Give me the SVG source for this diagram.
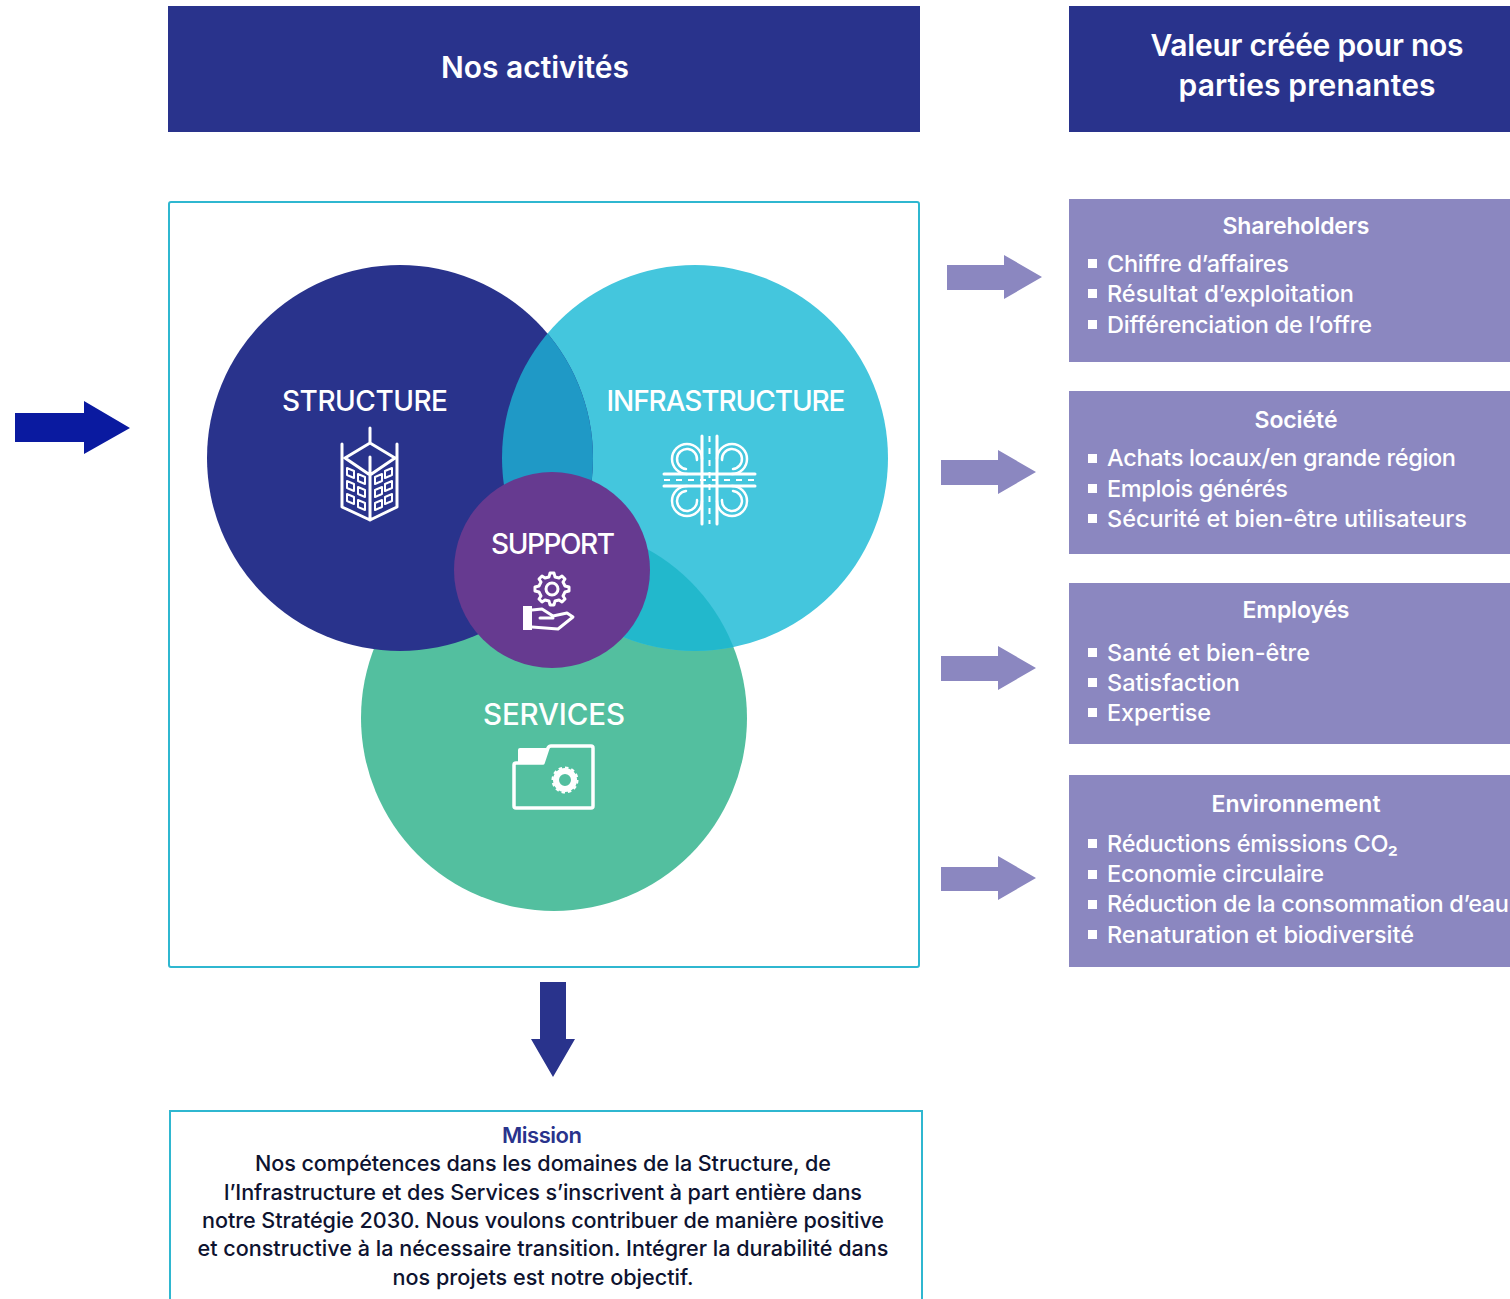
<svg xmlns="http://www.w3.org/2000/svg" width="1510" height="1299" viewBox="0 0 1510 1299">
<style>
text{font-family:"Inter","Liberation Sans",sans-serif}
.hd{fill:#fff;font-size:30px;font-weight:600;text-anchor:middle}
.lb{fill:#fff;font-size:28px;font-weight:500;text-anchor:middle}
.bt{fill:#fff;font-size:23px;font-weight:600;text-anchor:middle}
.li{fill:#fff;font-size:23.500px;font-weight:500}
.ms{fill:#0e1330;font-size:21.600px;font-weight:500;text-anchor:middle}
.box{fill:#8b87c0}
.navy{fill:#29338c}
.frame{fill:#fff;stroke:#2fb7d0;stroke-width:2}
.ic{fill:none;stroke:#fff;stroke-width:3;stroke-linecap:round;stroke-linejoin:round}
.bul{fill:#fff}
</style>
<defs>
<clipPath id="cS"><circle cx="400" cy="458" r="193"/></clipPath>
<clipPath id="cI"><circle cx="695" cy="458" r="193"/></clipPath>
<g id="loop"><path d="M702 459A15 15 0 1 0 687 474" stroke-width="2.500"/><path d="M697 460A10 10 0 1 0 686 469" stroke-width="2.500"/></g>
</defs>
<g id="head-activites"><rect class="navy" x="168" y="6" width="752" height="126"/><text class="hd" x="535" y="78" textLength="188">Nos activités</text></g>
<g id="head-valeur"><rect class="navy" x="1069" y="6" width="441" height="126"/><text class="hd" x="1307" y="56" textLength="313">Valeur créée pour nos</text><text class="hd" x="1307" y="96" textLength="257">parties prenantes</text></g>
<g id="frame-activites"><rect class="frame" x="169" y="202" width="750" height="765" rx="2"/></g>
<g id="services"><circle cx="554" cy="718" r="193" fill="#53bf9f"/></g>
<g id="infrastructure"><circle cx="695" cy="458" r="193" fill="#44c6dd"/><circle cx="554" cy="718" r="193" fill="#22b8cc" clip-path="url(#cI)"/></g>
<g id="structure"><circle cx="400" cy="458" r="193" fill="#29338c"/><circle cx="695" cy="458" r="193" fill="#1f99c6" clip-path="url(#cS)"/></g>
<g id="support"><circle cx="552" cy="570" r="98" fill="#663a90"/></g>
<g id="structure-label"><text class="lb" x="365" y="411" textLength="166">STRUCTURE</text>
<g class="ic"><path d="M370 428V443M342 444V507L370 520L397 507V444M345 458L370 443L395 458L370 475ZM370 457V520"/>
<path stroke-width="2" d="M347 468l7 3v7l-7-3zM358 474l7 3v7l-7-3zM347 481l7 3v7l-7-3zM358 487l7 3v7l-7-3zM347 494l7 3v7l-7-3zM358 500l7 3v7l-7-3zM375 477l7-3v7l-7 3zM385 471l7-3v7l-7 3zM375 490l7-3v7l-7 3zM385 484l7-3v7l-7 3zM375 503l7-3v7l-7 3zM385 497l7-3v7l-7 3z"/></g></g>
<g id="infrastructure-label"><text class="lb" x="726" y="411" textLength="239">INFRASTRUCTURE</text>
<g class="ic" stroke-width="2.500"><path d="M702 436V524M717 436V524M664 474H755M664 486H755"/><path d="M709.500 436V524M664 480H755" stroke-dasharray="6 6" stroke-width="2" stroke-linecap="butt"/>
<use href="#loop"/><use href="#loop" transform="matrix(-1 0 0 1 1419 0)"/><use href="#loop" transform="matrix(1 0 0 -1 0 960)"/><use href="#loop" transform="matrix(-1 0 0 -1 1419 960)"/></g></g>
<g id="support-label"><text class="lb" x="553" y="554" textLength="124">SUPPORT</text>
<g class="ic" stroke-width="2.500"><path d="M550 573h4l1 4 4 1 3-2 3 3-2 3 2 4 4 1v4l-4 1-2 4 2 3-3 3-3-2-4 1-1 4h-4l-1-4-4-1-3 2-3-3 2-3-2-4-4-1v-4l4-1 2-4-2-3 3-3 3 2 4-1z"/><circle cx="552" cy="589" r="6"/><path d="M532 610L542 609L553 616L567 613L573 617L558 629L532 627M540 618H553"/></g><rect x="523" y="606" width="9" height="24" fill="#fff"/></g>
<g id="services-label"><text class="lb" x="554" y="725" style="font-size:29.500px" textLength="142">SERVICES</text>
<path d="M516 763H543L548 748Q549 746 551 746H591Q593 746 593 748V806Q593 808 591 808H516Q514 808 514 806V765Q514 763 516 763" fill="none" stroke="#fff" stroke-width="3.500" stroke-linejoin="round"/><path d="M518 763V750Q518 748 520 748H547L542 763Z" fill="#fff"/><circle cx="565" cy="780" r="9" fill="none" stroke="#fff" stroke-width="6"/><circle cx="565" cy="780" r="12.500" fill="none" stroke="#fff" stroke-width="2" stroke-dasharray="3.500 3"/></g>
<g id="box-shareholders"><rect class="box" x="1069" y="199" width="441" height="163"/><text class="bt" x="1296" y="234" textLength="147">Shareholders</text>
<rect class="bul" x="1088" y="259" width="9" height="9"/><text class="li" x="1107" y="272" textLength="182">Chiffre d’affaires</text>
<rect class="bul" x="1088" y="289" width="9" height="9"/><text class="li" x="1107" y="302" textLength="247">Résultat d’exploitation</text>
<rect class="bul" x="1088" y="320" width="9" height="9"/><text class="li" x="1107" y="333" textLength="265">Différenciation de l’offre</text></g>
<g id="box-societe"><rect class="box" x="1069" y="391" width="441" height="163"/><text class="bt" x="1296" y="428" textLength="83">Société</text>
<rect class="bul" x="1088" y="454" width="9" height="9"/><text class="li" x="1107" y="466" textLength="349">Achats locaux/en grande région</text>
<rect class="bul" x="1088" y="484" width="9" height="9"/><text class="li" x="1107" y="497" textLength="181">Emplois générés</text>
<rect class="bul" x="1088" y="514" width="9" height="9"/><text class="li" x="1107" y="527" textLength="360">Sécurité et bien-être utilisateurs</text></g>
<g id="box-employes"><rect class="box" x="1069" y="583" width="441" height="161"/><text class="bt" x="1296" y="618" textLength="107">Employés</text>
<rect class="bul" x="1088" y="648" width="9" height="9"/><text class="li" x="1107" y="661" textLength="203">Santé et bien-être</text>
<rect class="bul" x="1088" y="678" width="9" height="9"/><text class="li" x="1107" y="691" textLength="133">Satisfaction</text>
<rect class="bul" x="1088" y="708" width="9" height="9"/><text class="li" x="1107" y="721" textLength="104">Expertise</text></g>
<g id="box-environnement"><rect class="box" x="1069" y="775" width="441" height="192"/><text class="bt" x="1296" y="812" textLength="169">Environnement</text>
<rect class="bul" x="1088" y="839" width="9" height="9"/><text class="li" x="1107" y="852" textLength="291">Réductions émissions CO₂</text>
<rect class="bul" x="1088" y="870" width="9" height="9"/><text class="li" x="1107" y="882" textLength="217">Economie circulaire</text>
<rect class="bul" x="1088" y="900" width="9" height="9"/><text class="li" x="1107" y="912" textLength="402">Réduction de la consommation d’eau</text>
<rect class="bul" x="1088" y="930" width="9" height="9"/><text class="li" x="1107" y="943" textLength="307">Renaturation et biodiversité</text></g>
<g id="connectors">
<path d="M15 413H84V401L130 428L84 454V442H15Z" fill="#0a1aa0"/>
<path d="M947 265H1004V255L1042 277L1004 299V290H947Z" fill="#8b87c0"/>
<path d="M941 460H998V450L1036 472L998 494V485H941Z" fill="#8b87c0"/>
<path d="M941 656H998V646L1036 668L998 690V681H941Z" fill="#8b87c0"/>
<path d="M941 867H998V856L1036 878L998 900V891H941Z" fill="#8b87c0"/>
<path d="M540 982H566V1039H575L553 1077L531 1039H540Z" fill="#29338c"/>
</g>
<g id="mission"><rect x="170" y="1111" width="752" height="200" fill="#fff" stroke="#2fb7d0" stroke-width="2"/>
<text x="542" y="1143" text-anchor="middle" font-size="22" font-weight="600" fill="#29338c" textLength="80">Mission</text>
<text class="ms" x="543" y="1171" textLength="576">Nos compétences dans les domaines de la Structure, de</text>
<text class="ms" x="543" y="1200" textLength="638">l’Infrastructure et des Services s’inscrivent à part entière dans</text>
<text class="ms" x="543" y="1228" textLength="682">notre Stratégie 2030. Nous voulons contribuer de manière positive</text>
<text class="ms" x="543" y="1256" textLength="691">et constructive à la nécessaire transition. Intégrer la durabilité dans</text>
<text class="ms" x="543" y="1285" textLength="301">nos projets est notre objectif.</text></g>
</svg>
